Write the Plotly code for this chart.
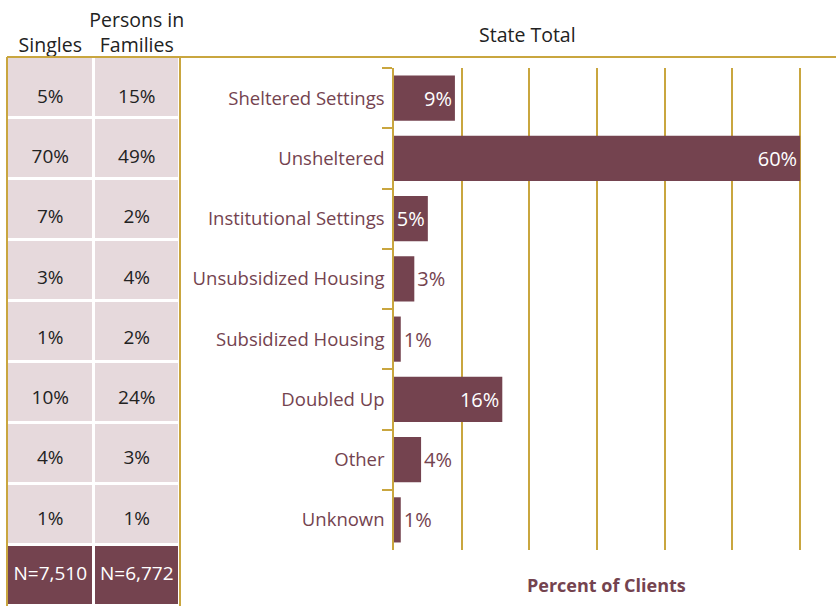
import plotly.graph_objects as go

categories = ["Sheltered Settings", "Unsheltered", "Institutional Settings",
              "Unsubsidized Housing", "Subsidized Housing", "Doubled Up",
              "Other", "Unknown"]
state_total = [9, 60, 5, 3, 1, 16, 4, 1]
singles = ["5%", "70%", "7%", "3%", "1%", "10%", "4%", "1%"]
families = ["15%", "49%", "2%", "4%", "2%", "24%", "3%", "1%"]
table_cols = ["Singles", "Persons in<br>Families"]
n_row_label = "N"
n_values = ["N=7,510", "N=6,772"]
bar_text_pos = ["inside", "inside", "inside", "outside", "outside", "inside", "outside", "outside"]

MAROON = "#74434f"
PINK = "#e6d9dc"
GOLD = "#c9a63f"
DARK = "#222222"
FONT = "Open Sans"

W, H = 836, 606
px = lambda v: v / W
py = lambda v: (H - v) / H

table_rows = categories + [n_row_label]

fig = go.Figure()

# Bars
fig.add_trace(go.Bar(
    y=categories, x=state_total, orientation="h",
    marker=dict(color=MAROON, line=dict(width=0)),
    width=0.75,
    text=[f"{v}%" for v in state_total],
    textposition=bar_text_pos,
    insidetextanchor="end",
    textangle=0,
    constraintext="none",
    insidetextfont=dict(color="white", size=20, family=FONT),
    outsidetextfont=dict(color=MAROON, size=20, family=FONT),
    cliponaxis=False,
    hoverinfo="skip",
    xaxis="x", yaxis="y",
))

# Table cells (pink data rows + maroon N row)
fig.add_trace(go.Heatmap(
    x=table_cols, y=table_rows,
    z=[[0, 0] for _ in categories] + [[1, 1]],
    colorscale=[[0, PINK], [0.5, PINK], [0.5, MAROON], [1, MAROON]],
    zmin=0, zmax=1, showscale=False,
    xgap=3, ygap=3, hoverinfo="skip",
    xaxis="x2", yaxis="y2",
))

# N row text
fig.add_trace(go.Scatter(
    x=table_cols, y=[n_row_label, n_row_label], mode="text",
    text=n_values, textposition="middle center",
    textfont=dict(color="white", size=19, family=FONT),
    hoverinfo="skip", xaxis="x2", yaxis="y2", cliponaxis=False,
))

# Table values, aligned with the bar rows (y3 mirrors the bar category axis)
for col, vals in zip(table_cols, [singles, families]):
    fig.add_trace(go.Scatter(
        x=[col] * len(categories), y=categories, mode="text",
        text=vals, textposition="middle center",
        textfont=dict(color=DARK, size=19, family=FONT),
        hoverinfo="skip", xaxis="x2", yaxis="y3", cliponaxis=False,
    ))

fig.update_layout(
    width=W, height=H, autosize=False,
    margin=dict(l=0, r=0, t=0, b=0, pad=0),
    paper_bgcolor="rgba(0,0,0,0)", plot_bgcolor="rgba(0,0,0,0)",
    showlegend=False,
    font=dict(family=FONT, color=DARK, size=18),
    xaxis=dict(
        domain=[px(394), 1.0], range=[0, 65.3], dtick=10, tick0=0,
        showgrid=True, gridcolor=GOLD, gridwidth=1.5,
        showticklabels=False, ticks="", zeroline=False, showline=False,
        automargin=False, fixedrange=True,
        anchor="y",
    ),
    yaxis=dict(
        domain=[py(550), py(68)], autorange="reversed",
        categoryorder="array", categoryarray=categories,
        ticks="outside", ticklen=10, tickwidth=1.5, tickcolor=GOLD,
        tickson="boundaries", ticklabelstandoff=4,
        showline=True, linecolor=GOLD, linewidth=1.5,
        tickfont=dict(color=MAROON, size=18.5, family=FONT),
        showgrid=False, zeroline=False, automargin=False, fixedrange=True,
        anchor="x",
    ),
    xaxis2=dict(
        domain=[px(7), px(180)], side="top", anchor="y2",
        type="category", categoryorder="array", categoryarray=table_cols,
        range=[-0.5, 1.5],
        showgrid=False, zeroline=False, showline=False, ticks="",
        tickfont=dict(color=DARK, size=19.5, family=FONT),
        ticklabelstandoff=0,
        automargin=False, fixedrange=True,
    ),
    yaxis2=dict(
        domain=[0, py(57)], anchor="x2",
        type="category", categoryorder="array",
        categoryarray=table_rows, range=[len(table_rows) - 0.5, -0.5],
        showticklabels=False, showgrid=False, zeroline=False, showline=False,
        ticks="", automargin=False, fixedrange=True,
    ),
    yaxis3=dict(
        domain=[py(550), py(68)], anchor="x2",
        type="category", categoryorder="array", categoryarray=categories,
        range=[len(categories) - 0.5, -0.5],
        showticklabels=False, showgrid=False, zeroline=False, showline=False,
        ticks="", automargin=False, fixedrange=True,
    ),
    shapes=[
        dict(type="line", xref="paper", yref="paper", x0=px(7), x1=1.0,
             y0=py(57), y1=py(57), line=dict(color=GOLD, width=2)),
        dict(type="line", xref="paper", yref="paper", x0=px(7), x1=px(7),
             y0=0, y1=py(57), line=dict(color=GOLD, width=2)),
        dict(type="line", xref="paper", yref="paper", x0=px(180), x1=px(180),
             y0=0, y1=py(57), line=dict(color=GOLD, width=2)),
    ],
    annotations=[
        dict(text="State Total", xref="paper", yref="paper",
             x=px(527), y=py(34), showarrow=False,
             font=dict(color=DARK, size=19.5, family=FONT),
             xanchor="center", yanchor="middle"),
        dict(text="<b>Percent of Clients</b>", xref="paper", yref="paper",
             x=px(606), y=py(585), showarrow=False,
             font=dict(color=MAROON, size=18, family=FONT),
             xanchor="center", yanchor="middle"),
    ],
)

fig.write_html("out.html", config={"displayModeBar": False},
               post_script="document.body.style.margin='0';")
